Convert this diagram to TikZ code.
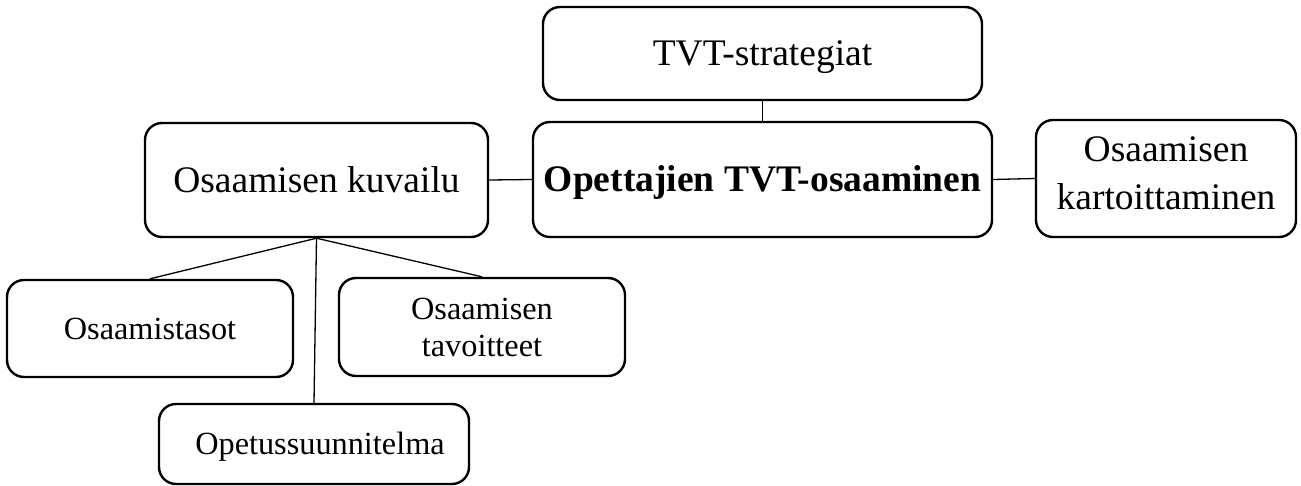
\documentclass[tikz,border=0pt]{standalone}
\usepackage{fontspec}
\setmainfont{Liberation Serif}
\tikzset{
  box/.style={draw=black, line width=2.4pt, rounded corners=17pt, fill=white, align=center, inner sep=0pt},
  big/.style={font=\fontsize{37.5}{46}\selectfont},
  small/.style={font=\fontsize{32.3}{37}\selectfont},
  oneline/.style={text height=25pt, text depth=0pt},
  onelinesmall/.style={text height=21pt, text depth=0pt},
  label/.style={align=center, inner sep=0pt},
  conn/.style={draw=black, line width=1.3pt}
}
\begin{document}
\begin{tikzpicture}[x=1pt,y=-1pt]
\useasboundingbox (0,0) rectangle (1301,486);
\node[box,big,oneline,minimum width=439pt,minimum height=93pt] (tvt) at (762.5,53.5) {TVT-strategiat};
\node[box,big,oneline,minimum width=459pt,minimum height=115pt] (opet) at (762.5,179.5) {\bfseries Opettajien TVT-osaaminen};
\node[box,big,oneline,minimum width=343pt,minimum height=114pt] (kuv) at (316.5,180) {Osaamisen kuvailu};
\node[box,minimum width=260pt,minimum height=117pt] (kart) at (1166,178.5) {};
\node[label,font=\fontsize{37.5}{48}\selectfont] (kartt) at (1166,173.5) {Osaamisen\\kartoittaminen};
\node[box,small,onelinesmall,minimum width=286pt,minimum height=97pt] (tasot) at (150,328.5) {Osaamistasot};
\node[box,small,minimum width=286pt,minimum height=98pt] (tav) at (482,327) {Osaamisen\\tavoitteet};
\node[box,small,onelinesmall,minimum width=310pt,minimum height=80pt,text width=300pt] (ops) at (314,444) {\hspace*{12pt}Opetussuunnitelma};
\draw[conn] (tvt) -- (opet);
\draw[conn] (kuv.east) -- (opet.west);
\draw[conn] (opet.east) -- (kart.west);
\draw[conn] (kuv.south) -- (tasot.north);
\draw[conn] (kuv.south) -- (tav.north);
\draw[conn] (kuv.south) -- (ops.north);
\end{tikzpicture}
\end{document}
